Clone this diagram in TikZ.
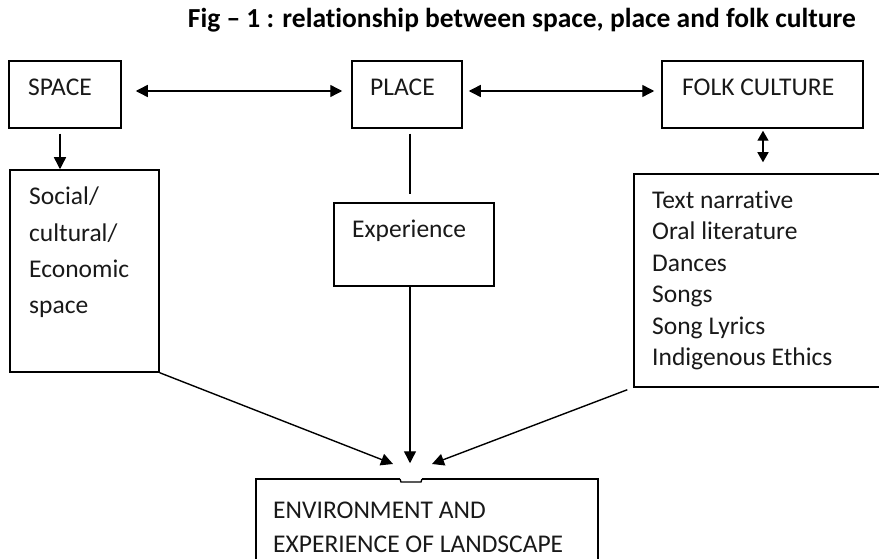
\documentclass[tikz,border=0pt]{standalone}
\usepackage{fontspec}
\setmainfont{Carlito}[Ligatures=CommonOff]
\usetikzlibrary{arrows.meta}
\begin{document}
\begin{tikzpicture}[x=1pt,y=-1pt,
  box/.style={draw=black, line width=1.5pt, inner sep=0pt},
  txt/.style={anchor=base west, inner sep=0pt, font=\fontsize{25.5}{30}\selectfont, text=black!90},
  ttl/.style={anchor=base east, inner sep=0pt, font=\bfseries\fontsize{27.5}{32}\selectfont, text=black},
  conn/.style={line width=1.4pt},
  one/.style={conn, -{Triangle[length=12pt,width=12pt]}},
  two/.style={conn, {Triangle[length=12pt,width=12pt]}-{Triangle[length=12pt,width=12pt]}},
  twoshort/.style={conn, {Triangle[length=10pt,width=11pt]}-{Triangle[length=10pt,width=11pt]}}]
\useasboundingbox (0,0) rectangle (879,559);

% title
\node[ttl] (title) at (856,28) {Fig – 1 : relationship between space, place and folk culture};

% boxes
\node[box, minimum width=112pt, minimum height=67pt] (space) at (65,94.5) {};
\node[box, minimum width=110pt, minimum height=67pt] (place) at (407,94.5) {};
\node[box, minimum width=201pt, minimum height=67pt] (folk) at (762.5,94.5) {};
\node[box, minimum width=149pt, minimum height=202pt] (social) at (84.5,271) {};
\node[box, minimum width=160pt, minimum height=83pt] (exper) at (414,244.5) {};
\node[box, minimum width=256pt, minimum height=213pt] (list) at (762,280.5) {};
\node[box, minimum width=342pt, minimum height=101pt] (env) at (427,529.5) {};

% texts
\node[txt] (t1) at (28,96) {SPACE};
\node[txt] (t2) at (370,96) {PLACE};
\node[txt] (t3) at (682,96) {FOLK CULTURE};
\node[txt] (s1) at (29,205) {Social/};
\node[txt] (s2) at (29,241) {cultural/};
\node[txt] (s3) at (29,277) {Economic};
\node[txt] (s4) at (29,313) {space};
\node[txt] (e1) at (352,237) {Experience};
\node[txt] (l1) at (652,208) {Text narrative};
\node[txt] (l2) at (652,239.5) {Oral literature};
\node[txt] (l3) at (652,271) {Dances};
\node[txt] (l4) at (652,302.5) {Songs};
\node[txt] (l5) at (652,334) {Song Lyrics};
\node[txt] (l6) at (652,365) {Indigenous Ethics};
\node[txt] (v1) at (273,518) {ENVIRONMENT AND};
\node[txt] (v2) at (273,552) {EXPERIENCE OF LANDSCAPE};

% small notch on top edge of env box
\fill[white] (400,477) rectangle (422,481);
\draw[line width=1.3pt] (400,479) -- (401,482) -- (421,482) -- (422,479);

% connectors
\draw[two, shorten <=14pt, shorten >=9pt] ([yshift=3.5pt]space.east) -- ([yshift=3.5pt]place.west);
\draw[two, shorten <=6pt, shorten >=7pt] ([yshift=3.5pt]place.east) -- ([yshift=3.5pt]folk.west);
\draw[twoshort, shorten <=2pt, shorten >=11pt] ([xshift=0.5pt]folk.south) -- ([xshift=0.5pt]folk.south |- list.north);
\draw[one, shorten <=5pt] ([xshift=-5pt]space.south) -- ([xshift=-5pt]space.south |- social.north);
\draw[conn, shorten <=5pt, shorten >=8pt] ([xshift=3pt]place.south) -- ([xshift=3pt]place.south |- exper.north);
\draw[one, shorten >=15pt] ([xshift=-4pt]exper.south) -- ([xshift=-4pt]exper.south |- env.north);
\coordinate (ltip) at (393,464);
\coordinate (rtip) at (432,464);
\draw[one] (social.south east) -- (ltip);
\draw[one] ([xshift=-6pt,yshift=-2pt]list.south west) -- (rtip);
\end{tikzpicture}
\end{document}
